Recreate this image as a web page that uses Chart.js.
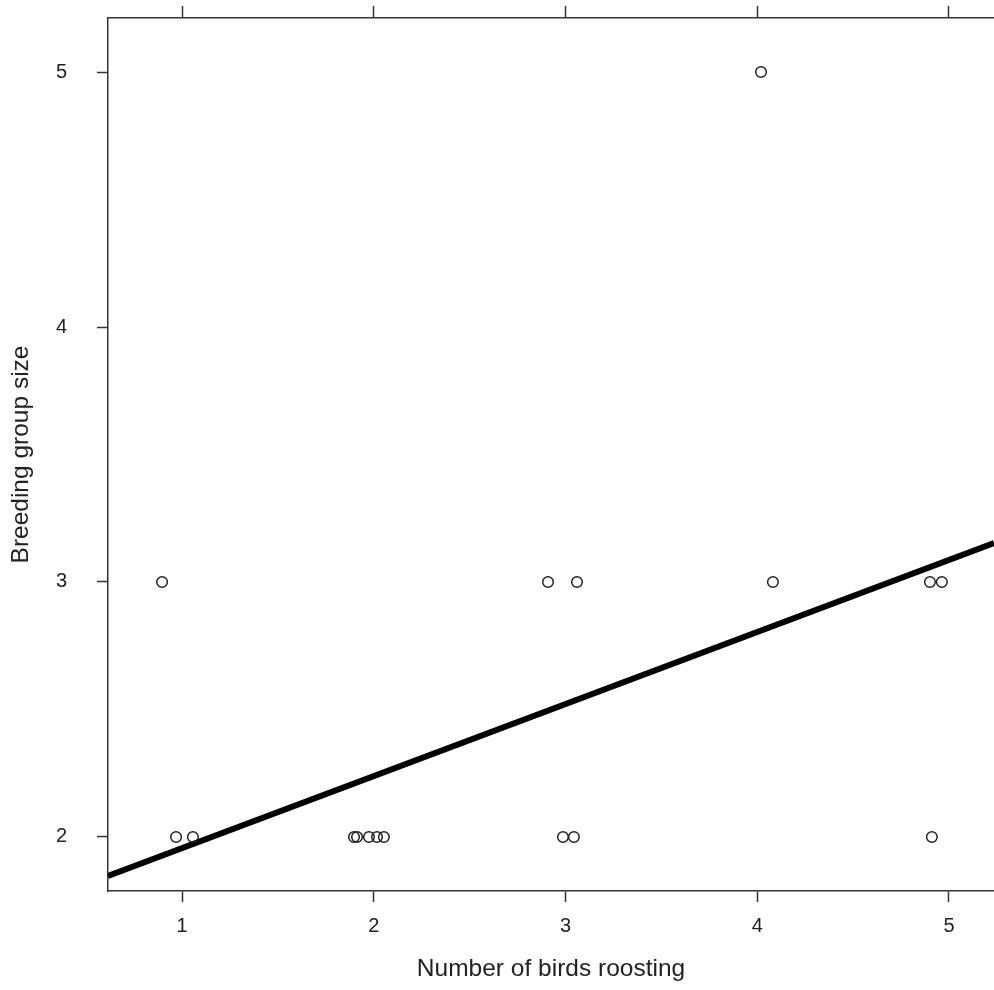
<!DOCTYPE html>
<html>
<head>
<meta charset="utf-8">
<title>Breeding group size vs birds roosting</title>
<script src="https://cdn.jsdelivr.net/npm/chart.js@4"></script>
<style>
  html, body { margin: 0; padding: 0; background: #fff; }
  #wrap { width: 994px; height: 990px; }
</style>
</head>
<body>
<div id="wrap"><canvas id="chart"></canvas></div>
<script>
const roostX = [0.896, 0.969, 1.057, 1.897, 1.913, 1.975, 2.017, 2.053,
                2.909, 3.060, 2.987, 3.044, 4.020, 4.082, 4.901, 4.963, 4.911];
const groupY = [3, 2, 2, 2, 2, 2, 2, 2,
                3, 3, 2, 2, 5, 3, 3, 3, 2];

// fitted line, ends at the plot edges
const fitX = [0.614, 5.235];
const fitY = [1.847, 3.153];

const xTicks = [1, 2, 3, 4, 5];
const yTicks = [2, 3, 4, 5];
const xRange = [0.614, 5.235];
const yRange = [1.788, 5.212];

const xTitle = 'Number of birds roosting';
const yTitle = 'Breeding group size';

const ink = '#222';
const font = 'Liberation Sans, Arial, sans-serif';

const points = roostX.map((x, i) => ({ x: x, y: groupY[i] }));
const fit = fitX.map((x, i) => ({ x: x, y: fitY[i] }));

function fixTicks(list) {
  return function (scale) {
    scale.ticks = list.map(v => ({ value: v }));
  };
}

// pin the axis boxes so the plot area sits where the original one does
function fixSize(w, h) {
  return function (s) {
    if (w !== null) s.width = w;
    if (h !== null) s.height = h;
    s.paddingTop = 0;
    s.paddingBottom = 0;
    s.paddingLeft = 0;
    s.paddingRight = 0;
  };
}

new Chart(document.getElementById('chart'), {
  type: 'scatter',
  data: {
    datasets: [
      {
        label: 'birds',
        data: points,
        pointStyle: 'circle',
        pointRadius: 5.3,
        pointBorderWidth: 1.5,
        pointBorderColor: ink,
        pointBackgroundColor: 'rgba(0,0,0,0)',
        xAxisID: 'x',
        yAxisID: 'y'
      },
      {
        type: 'line',
        label: 'fit',
        data: fit,
        borderColor: '#000',
        borderWidth: 6,
        pointRadius: 0,
        fill: false,
        xAxisID: 'x',
        yAxisID: 'y'
      }
    ]
  },
  options: {
    responsive: true,
    maintainAspectRatio: false,
    animation: false,
    layout: { padding: 0, autoPadding: false },
    plugins: {
      legend: { display: false },
      tooltip: { enabled: false }
    },
    scales: {
      x: {
        type: 'linear',
        position: 'bottom',
        min: xRange[0],
        max: xRange[1],
        afterBuildTicks: fixTicks(xTicks),
        afterFit: fixSize(null, 99),
        grid: { drawOnChartArea: false, drawTicks: true, tickLength: 11, tickWidth: 1.5, tickColor: '#333' },
        border: { display: true, color: '#333', width: 1.5 },
        ticks: { color: ink, font: { family: font, size: 20 }, padding: 12, maxRotation: 0 },
        title: { display: true, text: xTitle, color: ink, font: { family: font, size: 24.5 }, padding: { top: 6, bottom: 6 } }
      },
      x2: {
        type: 'linear',
        position: 'top',
        min: xRange[0],
        max: xRange[1],
        afterBuildTicks: fixTicks(xTicks),
        afterFit: fixSize(null, 18),
        grid: { drawOnChartArea: false, drawTicks: true, tickLength: 12, tickWidth: 1.5, tickColor: '#333' },
        border: { display: true, color: '#333', width: 1.5 },
        ticks: { display: false }
      },
      y: {
        type: 'linear',
        position: 'left',
        min: yRange[0],
        max: yRange[1],
        afterBuildTicks: fixTicks(yTicks),
        afterFit: fixSize(108, null),
        grid: { drawOnChartArea: false, drawTicks: true, tickLength: 11, tickWidth: 1.5, tickColor: '#333' },
        border: { display: true, color: '#333', width: 1.5 },
        ticks: { color: ink, font: { family: font, size: 20 }, padding: 30 },
        title: { display: true, text: yTitle, color: ink, font: { family: font, size: 24.5 }, padding: { top: 7, bottom: 0 } }
      }
    }
  }
});
</script>
</body>
</html>
